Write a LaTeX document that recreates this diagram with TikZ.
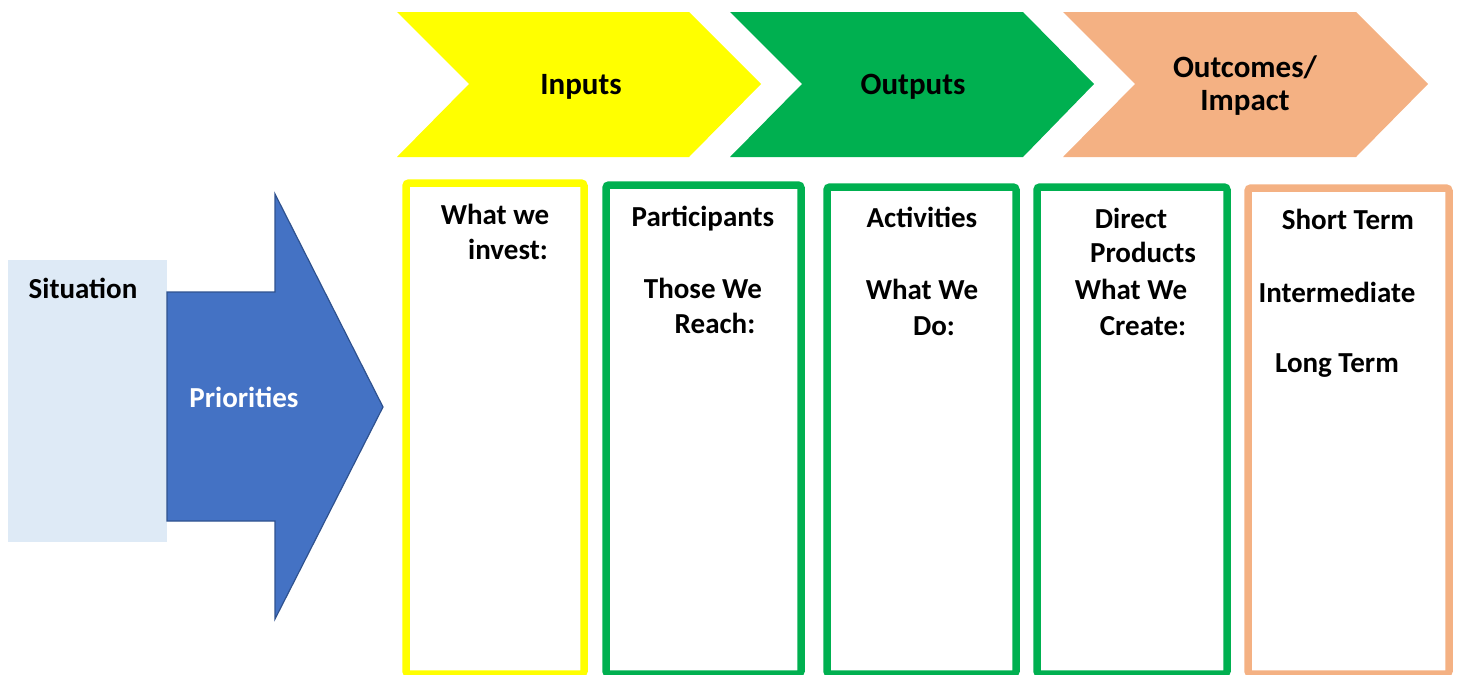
\documentclass[tikz,border=0pt]{standalone}
\usepackage{fontspec}
\setmainfont{Carlito}
\begin{document}
\begin{tikzpicture}[x=0.5pt,y=-0.5pt,
    lbl/.style={font=\fontsize{14.5}{17}\selectfont\bfseries, anchor=base, inner sep=0pt},
    col/.style={line width=3.75pt, rounded corners=1.5pt}]
                        \useasboundingbox (0,0) rectangle (1458,675);
                        {
                        % Drawing situation block
                        \definecolor{r222g234b246}{RGB}{222,234,246}%
                        \fill [r222g234b246] (8,260) rectangle (167,542);%
                        \node [lbl] (situation) at (83,298) {Situation};%

                        % Drawing priorities arrow
                        \definecolor{r68g114b196}{RGB}{68,114,196}%
                        \definecolor{r47g82b143}{RGB}{47,82,143}%
                        \draw [fill=r68g114b196, draw=r47g82b143, line width=0.6pt] (167,292) -- (275,292) -- (275,194) -- (383,407) -- (275,619) -- (275,521) -- (167,521) -- cycle;%
                        \node [lbl, text=white] (priorities) at (244,407) {Priorities};%

                        % Drawing chevrons
                        \definecolor{r255g255b0}{RGB}{255,255,0}%
                        \definecolor{r0g176b80}{RGB}{0,176,80}%
                        \definecolor{r244g177b131}{RGB}{244,177,131}%
                        \fill [r255g255b0] (397,12) -- (689,12) -- (761,84) -- (689,157) -- (397,157) -- (469,84) -- cycle;%
                        \fill [r0g176b80] (730,12) -- (1023,12) -- (1094,84) -- (1023,157) -- (730,157) -- (802,84) -- cycle;%
                        \fill [r244g177b131] (1063,12) -- (1356,12) -- (1428,84) -- (1356,157) -- (1063,157) -- (1135,84) -- cycle;%
                        \node [lbl, font=\fontsize{15.5}{17}\selectfont\bfseries] (inputs) at (581,94) {Inputs};%
                        \node [lbl, font=\fontsize{15.5}{17}\selectfont\bfseries] (outputs) at (913,94) {Outputs};%
                        \node [lbl, font=\fontsize{15.5}{17}\selectfont\bfseries] (outcomes) at (1245,77) {Outcomes/};%
                        \node [lbl, font=\fontsize{15.5}{17}\selectfont\bfseries] (impact) at (1245,110) {Impact};%

                        % Drawing columns
                        \draw [col, r255g255b0] (406,183) rectangle (584,674);%
                        \draw [col, r0g176b80] (606,185) rectangle (801,674);%
                        \draw [col, r0g176b80] (827,187) rectangle (1016,674);%
                        \draw [col, r0g176b80] (1037,187) rectangle (1227,674);%
                        \draw [col, r244g177b131] (1248,188) rectangle (1449,674);%

                        % Drawing column texts
                        \node [lbl] (whatwe) at (495,224) {What we};%
                        \node [lbl] (invest) at (508,259) {invest:};%
                        \node [lbl] (participants) at (703,226) {Participants};%
                        \node [lbl] (thosewe) at (703,298) {Those We};%
                        \node [lbl] (reach) at (715,333) {Reach:};%
                        \node [lbl] (activities) at (922,227) {Activities};%
                        \node [lbl] (whatwedo) at (922,299) {What We};%
                        \node [lbl] (do) at (934,335) {Do:};%
                        \node [lbl] (direct) at (1131,228) {Direct};%
                        \node [lbl] (products) at (1143,262) {Products};%
                        \node [lbl] (whatwecreate) at (1131,299) {What We};%
                        \node [lbl] (create) at (1143,335) {Create:};%
                        \node [lbl] (shortterm) at (1348,229) {Short Term};%
                        \node [lbl] (intermediate) at (1337,302) {Intermediate};%
                        \node [lbl] (longterm) at (1337,372) {Long Term};%
                        }
                        \end{tikzpicture}
\end{document}
